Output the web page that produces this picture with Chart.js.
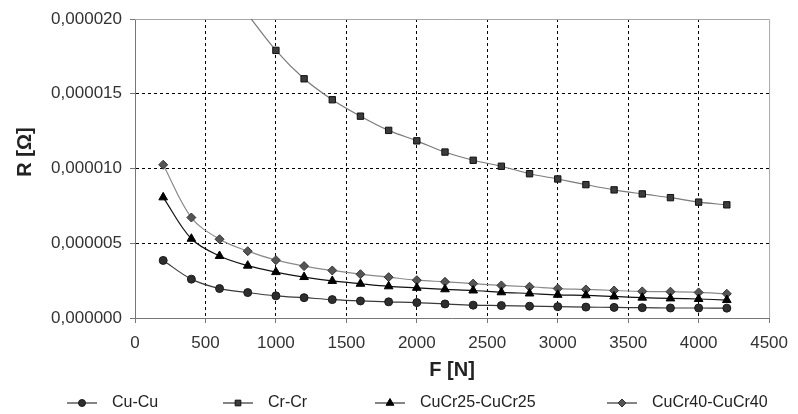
<!DOCTYPE html>
<html>
<head>
<meta charset="utf-8">
<title>R vs F</title>
<script src="https://cdn.jsdelivr.net/npm/chart.js@4.4.0/dist/chart.umd.min.js"></script>
<style>
    html, body { margin: 0; padding: 0; background: #fff; }
    #wrap { width: 798px; height: 414px; position: relative; }
</style>
</head>
<body>
<div id="wrap"><canvas id="chart"></canvas></div>
<script>
// Contact resistance against pressing force
const forceN = [200, 400, 600, 800, 1000, 1200, 1400, 1600, 1800, 2000, 2200,
    2400, 2600, 2800, 3000, 3200, 3400, 3600, 3800, 4000, 4200];

const cuCu = [3.85e-6, 2.6e-6, 1.97e-6, 1.7e-6, 1.48e-6, 1.36e-6, 1.23e-6, 1.14e-6,
    1.08e-6, 1.03e-6, 0.94e-6, 0.86e-6, 0.83e-6, 0.79e-6, 0.76e-6, 0.73e-6,
    0.71e-6, 0.69e-6, 0.67e-6, 0.67e-6, 0.66e-6];

// first values are above the plotted range
const crCr = [null, null, null, 20.3e-6, 17.9e-6, 16.0e-6, 14.6e-6, 13.5e-6,
    12.55e-6, 11.85e-6, 11.1e-6, 10.55e-6, 10.15e-6, 9.65e-6, 9.3e-6, 8.92e-6,
    8.57e-6, 8.3e-6, 8.05e-6, 7.75e-6, 7.57e-6];

const cuCr25 = [8.07e-6, 5.3e-6, 4.15e-6, 3.5e-6, 3.07e-6, 2.74e-6, 2.48e-6, 2.29e-6,
    2.12e-6, 2.02e-6, 1.92e-6, 1.84e-6, 1.72e-6, 1.64e-6, 1.55e-6, 1.52e-6,
    1.44e-6, 1.36e-6, 1.31e-6, 1.27e-6, 1.2e-6];

const cuCr40 = [10.25e-6, 6.72e-6, 5.27e-6, 4.47e-6, 3.87e-6, 3.47e-6, 3.18e-6, 2.93e-6,
    2.73e-6, 2.53e-6, 2.42e-6, 2.3e-6, 2.18e-6, 2.09e-6, 1.97e-6, 1.91e-6,
    1.84e-6, 1.78e-6, 1.76e-6, 1.71e-6, 1.62e-6];

const seriesNames = ['Cu-Cu', 'Cr-Cr', 'CuCr25-CuCr25', 'CuCr40-CuCr40'];
const xTicks = [0, 500, 1000, 1500, 2000, 2500, 3000, 3500, 4000, 4500];
const yTicks = [0, 0.000005, 0.00001, 0.000015, 0.00002];

const FONT = "'Liberation Sans', Arial, sans-serif";
const X_MAX = xTicks[xTicks.length - 1];
const Y_MAX = yTicks[yTicks.length - 1];

function toPoints(values) {
    return forceN.map((f, i) => ({ x: f, y: values[i] }));
}

const styles = [
    { line: '#3a3a3a', fill: '#2e2e2e', edge: '#1a1a1a', shape: 'circle', r: 4 },
    { line: '#7a7a7a', fill: '#3c3c3c', edge: '#111111', shape: 'rect', r: 4.5 },
    { line: '#111111', fill: '#000000', edge: '#000000', shape: 'triangle', r: 5 },
    { line: '#8a8a8a', fill: '#555555', edge: '#333333', shape: 'rectRot', r: 4.5 }
];

const datasets = [cuCu, crCr, cuCr25, cuCr40].map((vals, i) => ({
    label: seriesNames[i],
    data: toPoints(vals),
    borderColor: styles[i].line,
    borderWidth: 1.2,
    backgroundColor: styles[i].fill,
    pointStyle: styles[i].shape,
    pointRadius: styles[i].r,
    pointBackgroundColor: styles[i].fill,
    pointBorderColor: styles[i].edge,
    pointBorderWidth: 1,
    tension: 0.35,
    clip: 0
}));

// plot frame, axis titles and the line+marker legend underneath
const decorations = {
    id: 'decorations',
    beforeDatasetsDraw(chart) {
        const { ctx, chartArea: a } = chart;
        ctx.save();
        ctx.strokeStyle = '#a8a8a8';
        ctx.lineWidth = 1;
        ctx.beginPath();
        ctx.moveTo(a.left, a.top + 0.5);
        ctx.lineTo(a.right + 0.5, a.top + 0.5);
        ctx.lineTo(a.right + 0.5, a.bottom);
        ctx.stroke();
        ctx.restore();
    },
    afterDraw(chart) {
        const { ctx, chartArea: a } = chart;
        ctx.save();
        ctx.fillStyle = '#222';
        ctx.font = 'bold 20px ' + FONT;
        ctx.textAlign = 'center';
        ctx.textBaseline = 'middle';
        ctx.fillText('F [N]', (a.left + a.right) / 2, 370);

        ctx.save();
        ctx.translate(25, 152);
        ctx.rotate(-Math.PI / 2);
        ctx.fillText('R [\u03A9]', 0, 0);
        ctx.restore();

        const legendX = [82, 238, 390, 622];
        const legendY = 403;
        ctx.font = '16px ' + FONT;
        ctx.textAlign = 'left';
        chart.data.datasets.forEach((ds, i) => {
            const cx = legendX[i];
            ctx.strokeStyle = '#333';
            ctx.lineWidth = 1.2;
            ctx.beginPath();
            ctx.moveTo(cx - 15, legendY);
            ctx.lineTo(cx + 15, legendY);
            ctx.stroke();
            ctx.fillStyle = ds.pointBackgroundColor;
            ctx.strokeStyle = ds.pointBorderColor;
            ctx.lineWidth = 1;
            Chart.helpers.drawPoint(ctx, {
                pointStyle: ds.pointStyle,
                radius: ds.pointRadius - 0.5,
                rotation: 0,
                borderWidth: 1
            }, cx, legendY);
            ctx.fillStyle = '#222';
            ctx.fillText(ds.label, cx + 30, legendY);
        });
        ctx.restore();
    }
};

function gridColor(max) {
    return ctx => {
        const v = ctx.tick ? ctx.tick.value : null;
        return (v === 0 || Math.abs(v - max) < max * 1e-6) ? 'rgba(0,0,0,0)' : '#000';
    };
}

Chart.defaults.font.family = FONT;
Chart.defaults.font.size = 17;
Chart.defaults.color = '#333';

new Chart(document.getElementById('chart'), {
    type: 'line',
    data: { datasets: datasets },
    plugins: [decorations],
    options: {
        responsive: true,
        maintainAspectRatio: false,
        animation: false,
        layout: { padding: { top: 19, right: 19, bottom: 0, left: 0 } },
        plugins: {
            legend: { display: false },
            tooltip: { enabled: false }
        },
        scales: {
            x: {
                type: 'linear',
                min: 0,
                max: X_MAX,
                afterBuildTicks: scale => { scale.ticks = xTicks.map(v => ({ value: v })); },
                afterFit: scale => { scale.height = 96; },
                ticks: { padding: 10, color: '#333', maxRotation: 0, callback: v => String(v) },
                grid: { color: gridColor(X_MAX), tickColor: '#777', tickLength: 5, tickBorderDash: [] },
                border: { color: '#777', width: 1, dash: [3, 3] }
            },
            y: {
                min: 0,
                max: Y_MAX,
                afterBuildTicks: scale => { scale.ticks = yTicks.map(v => ({ value: v })); },
                afterFit: scale => { scale.width = 135; },
                ticks: {
                    padding: 8,
                    color: '#333',
                    callback: v => v.toFixed(6).replace('.', ',')
                },
                grid: { color: gridColor(Y_MAX), tickColor: '#777', tickLength: 5, tickBorderDash: [] },
                border: { color: '#777', width: 1, dash: [3, 3] }
            }
        }
    }
});
</script>
</body>
</html>
